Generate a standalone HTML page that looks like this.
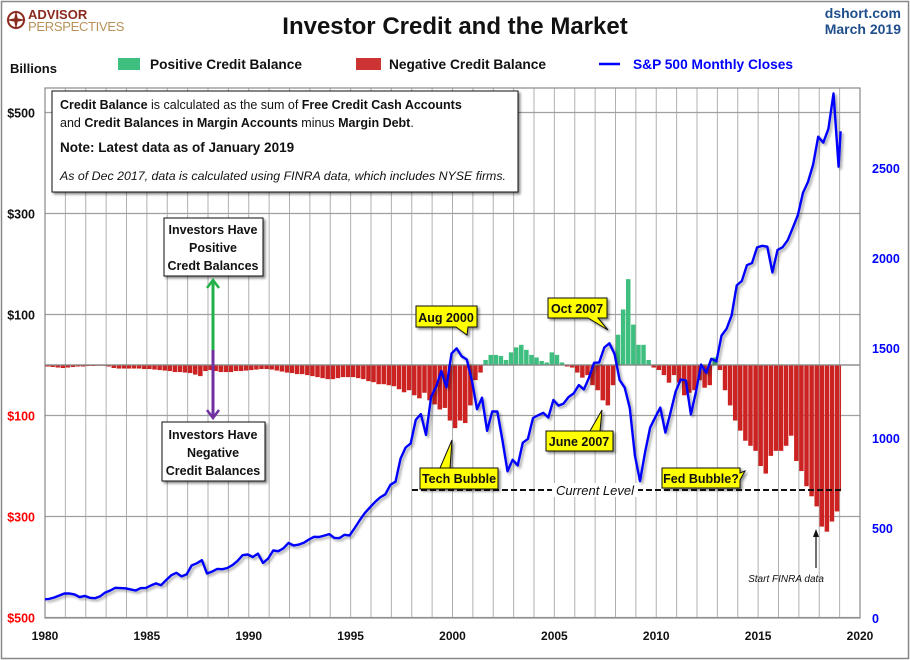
<!DOCTYPE html>
<html><head><meta charset="utf-8"><style>
html,body{margin:0;padding:0;background:#fff;}
svg{display:block;font-family:"Liberation Sans",sans-serif;}
</style></head><body>
<svg id="c" width="910" height="660" viewBox="0 0 910 660" xmlns="http://www.w3.org/2000/svg">
<defs>
<filter id="sh" x="-10%" y="-10%" width="130%" height="140%"><feDropShadow dx="2" dy="2" stdDeviation="1.2" flood-color="#000" flood-opacity="0.45"/></filter>
<filter id="lsh" x="-5%" y="-5%" width="110%" height="110%"><feDropShadow dx="2" dy="2" stdDeviation="1.2" flood-color="#000" flood-opacity="0.35"/></filter>
</defs>
<rect x="1.5" y="1.5" width="907" height="657" fill="#fff" stroke="#888" stroke-width="1.5"/>
<g id="grid"></g>
<g id="bars"></g>
<g id="line"></g>
<g id="axes"></g>

<!-- header -->
<g>
<circle cx="16" cy="20" r="8" fill="none" stroke="#8b2a1f" stroke-width="2"/>
<path d="M16,10 L18,20 L16,30 L14,20Z M6,20 L16,18 L26,20 L16,22Z" fill="#8b2a1f"/>
<text x="28" y="19" font-size="13" font-weight="bold" fill="#8b2a1f">ADVISOR</text>
<text x="28" y="31" font-size="13" fill="#b8925a" letter-spacing="-0.3">PERSPECTIVES</text>
</g>
<text x="455" y="34" text-anchor="middle" font-size="24" font-weight="bold" fill="#111">Investor Credit and the Market</text>
<text x="901" y="18" text-anchor="end" font-size="14" font-weight="bold" fill="#1f4e8c">dshort.com</text>
<text x="901" y="34" text-anchor="end" font-size="14" font-weight="bold" fill="#1f4e8c">March 2019</text>
<text x="10" y="73" font-size="13" font-weight="bold" fill="#111" textLength="47" lengthAdjust="spacingAndGlyphs">Billions</text>
<g>
<rect x="118" y="58" width="22" height="12" fill="#3fbf7f"/>
<text x="150" y="69" font-size="14" font-weight="bold" fill="#111" textLength="152" lengthAdjust="spacingAndGlyphs">Positive Credit Balance</text>
<rect x="356" y="58" width="25" height="12" fill="#cc3333"/>
<text x="389" y="69" font-size="14" font-weight="bold" fill="#111" textLength="157" lengthAdjust="spacingAndGlyphs">Negative Credit Balance</text>
<line x1="599" y1="64" x2="620" y2="64" stroke="#0000ff" stroke-width="2.5"/>
<text x="633" y="69" font-size="14" font-weight="bold" fill="#0000ff" textLength="160" lengthAdjust="spacingAndGlyphs">S&amp;P 500 Monthly Closes</text>
</g>

<!-- note box -->
<g>
<rect x="52" y="91" width="466" height="101" fill="#fff" stroke="#111" filter="url(#sh)"/>
<text x="60" y="109" font-size="12.5" fill="#111"><tspan font-weight="bold">Credit Balance</tspan> is calculated as the sum of <tspan font-weight="bold">Free Credit Cash Accounts</tspan></text>
<text x="60" y="127" font-size="12.5" fill="#111">and <tspan font-weight="bold">Credit Balances in Margin Accounts</tspan> minus <tspan font-weight="bold">Margin Debt</tspan>.</text>
<text x="60" y="152" font-size="13.5" font-weight="bold" fill="#111">Note: Latest data as of January  2019</text>
<text x="60" y="180" font-size="11.5" font-style="italic" fill="#111" textLength="446" lengthAdjust="spacingAndGlyphs">As of Dec 2017, data is calculated using  FINRA data, which includes NYSE firms.</text>
</g>

<!-- investors boxes -->
<g>
<rect x="164" y="218" width="99" height="58" fill="#fff" stroke="#111" filter="url(#sh)"/>
<text x="213" y="234" text-anchor="middle" font-size="12.5" font-weight="bold" fill="#111">Investors Have</text>
<text x="213" y="252" text-anchor="middle" font-size="12.5" font-weight="bold" fill="#111">Positive</text>
<text x="213" y="270" text-anchor="middle" font-size="12.5" font-weight="bold" fill="#111">Credt Balances</text>
</g>
<line x1="213" y1="350" x2="213" y2="280" stroke="#22b04a" stroke-width="3"/>
<path d="M207,288 L213,280 L219,288" fill="none" stroke="#22b04a" stroke-width="2.5"/>
<line x1="213" y1="350" x2="213" y2="418" stroke="#7030a0" stroke-width="3"/>
<path d="M207,410 L213,418 L219,410" fill="none" stroke="#7030a0" stroke-width="2.5"/>
<g>
<rect x="162" y="422" width="103" height="59" fill="#fff" stroke="#111" filter="url(#sh)"/>
<text x="213" y="439" text-anchor="middle" font-size="12.5" font-weight="bold" fill="#111">Investors Have</text>
<text x="213" y="457" text-anchor="middle" font-size="12.5" font-weight="bold" fill="#111">Negative</text>
<text x="213" y="475" text-anchor="middle" font-size="12.5" font-weight="bold" fill="#111">Credit Balances</text>
</g>

<!-- current level -->
<line x1="412" y1="490" x2="843" y2="490" stroke="#111" stroke-width="2" stroke-dasharray="6,3"/>
<rect x="552" y="483" width="86" height="14" fill="#fff"/>
<text x="595" y="495" text-anchor="middle" font-size="13" font-style="italic" fill="#111">Current Level</text>

<!-- callouts -->
<g filter="url(#sh)">
<path d="M416,306 H477 V327 H468 L467,335 L456,327 H416Z" fill="#ffff00" stroke="#111"/>
<path d="M548,298 H607 V318 H598 L608,330 L588,318 H548Z" fill="#ffff00" stroke="#111"/>
<path d="M420,468 H498 V489 H420 V468 H440 L452,440 L450,468Z" fill="#ffff00" stroke="#111"/>
<path d="M546,431 H613 V451 H546 V431 H590 L602,410 L600,431Z" fill="#ffff00" stroke="#111"/>
<path d="M662,468 H740 V473 L745,471 L740,480 V488 H662Z" fill="#ffff00" stroke="#111"/>
</g>
<text x="446" y="322" text-anchor="middle" font-size="12.5" font-weight="bold" fill="#111">Aug 2000</text>
<text x="577" y="313" text-anchor="middle" font-size="12.5" font-weight="bold" fill="#111">Oct 2007</text>
<text x="459" y="483" text-anchor="middle" font-size="12.5" font-weight="bold" fill="#111">Tech Bubble</text>
<text x="579" y="446" text-anchor="middle" font-size="12.5" font-weight="bold" fill="#111">June 2007</text>
<text x="701" y="483" text-anchor="middle" font-size="12.5" font-weight="bold" fill="#111">Fed Bubble?</text>

<line x1="816" y1="568" x2="816" y2="532" stroke="#111" stroke-width="1.2"/>
<path d="M813,537 L816,529 L819,537Z" fill="#111"/>
<text x="786" y="582" text-anchor="middle" font-size="10" font-style="italic" fill="#111">Start FINRA data</text>
</svg>
<script>
// ---- data ----
const spYears = [1980,1981,1982,1983,1984,1985,1986,1987,1988,1989,1990,1991,1992,1993,1994,1995,1996,1997,1998,1999,2000,2001,2002,2003,2004,2005,2006,2007,2008,2009,2010,2011,2012,2013,2014,2015,2016,2017,2018];
const spQuarterly = [
 106,114,125,136, 136,131,116,123, 112,110,120,141, 153,168,166,165, 159,153,166,167,
 181,192,182,211, 238,251,231,242, 292,304,321,247, 258,273,271,278, 294,317,349,353,
 339,358,306,330, 375,371,387,417, 403,408,418,436, 451,450,458,466, 445,444,462,459,
 500,544,584,615, 645,670,687,740, 757,885,947,970, 1101,1133,1017,1229, 1286,1372,1282,1469,
 1498,1454,1436,1320, 1160,1224,1040,1148, 1147,989,815,879, 848,974,995,1111, 1126,1140,1114,1211,
 1180,1191,1228,1248, 1294,1270,1335,1418, 1420,1503,1526,1468, 1322,1280,1166,903, 760,919,1057,1115,
 1169,1030,1141,1257, 1325,1320,1131,1257, 1408,1362,1440,1426, 1569,1606,1681,1848, 1872,1960,1972,2059,
 2068,2063,1920,2044, 2060,2099,2168,2239, 2363,2423,2519,2674, 2641,2718,2914,2507];
const spLatest = 2704; // Jan 2019
const creditQuarterly = [
 -3,-4,-5,-6, -5,-4,-3,-3, -2,-2,-1,-1, -3,-6,-7,-7, -7,-7,-7,-8,
 -8,-9,-10,-11, -12,-14,-14,-15, -16,-19,-22,-12, -10,-12,-14,-14, -14,-12,-12,-11,
 -10,-9,-8,-8, -9,-11,-13,-15, -16,-18,-18,-20, -22,-24,-26,-28, -28,-26,-24,-24,
 -24,-26,-28,-32, -34,-38,-38,-40, -42,-48,-54,-50, -60,-66,-55,-70, -78,-88,-85,-110,
 -125,-110,-115,-80, -30,-15,10,20, 20,18,10,25, 35,40,30,20, 15,8,5,25,
 20,5,-3,-5, -15,-25,-20,-40, -50,-70,-80,-40, 60,110,170,80, 40,40,10,-5,
 -10,-20,-35,-20, -35,-60,-55,-50, -30,-45,-40,15, -10,-50,-80,-110, -130,-150,-160,-170,
 -200,-215,-180,-170, -170,-160,-140,-190, -210,-240,-260,-280, -320,-330,-310,-290];
const creditLatest = -250; // Jan 2019
const leftTicks = [500,300,100,0,-100,-300,-500];
const leftTickLabels = ["$500","$300","$100","","$100","$300","$500"];
const rightTicks = [0,500,1000,1500,2000,2500];
const xTicks = [1980,1985,1990,1995,2000,2005,2010,2015,2020];

// ---- scales ----
const L=45,R=860,T=88,B=618;
const x = t => L + (t-1980)*(R-L)/40;
const yL = v => 365 - v*0.505;
const yR = v => 618 - v*0.18;
const NS="http://www.w3.org/2000/svg";
function mk(tag,attrs,parent){const e=document.createElementNS(NS,tag);for(const k in attrs)e.setAttribute(k,attrs[k]);parent.appendChild(e);return e;}

const grid=document.getElementById('grid');
for(let yr=1981;yr<2020;yr++){
  const g=mk('line',{x1:x(yr),x2:x(yr),y1:T,y2:B,stroke:'#b0b0b0','stroke-width':1},grid);
  
  
}
leftTicks.forEach(v=>{
  const g=mk('line',{x1:L,x2:R,y1:yL(v),y2:yL(v),stroke:'#a0a0a0','stroke-width':1.2},grid);
  
  
});
mk('rect',{x:L,y:T,width:R-L,height:B-T,fill:'none',stroke:'#888','stroke-width':1.2},grid);

// bars
const bars=document.getElementById('bars');
const bw=(R-L)/40/4;
const allCredit=creditQuarterly.concat([creditLatest]);
allCredit.forEach((v,i)=>{
  const t = i<creditQuarterly.length ? 1980+i*0.25 : 2019.0;
  const y0=yL(0), y1=yL(v);
  const r=mk('rect',{x:x(t)+0.3,y:Math.min(y0,y1),width:(i<creditQuarterly.length?bw:bw/3)-0.6,height:Math.max(Math.abs(y1-y0),0.8),fill:v>=0?'#3fbf7f':'#cc2222'},bars);
  
  
});
mk('line',{x1:L,x2:R,y1:yL(0),y2:yL(0),stroke:'#888','stroke-width':1.2},bars);

// line
const lineG=document.getElementById('line');
const pts=spQuarterly.map((v,i)=>[x(1980+i*0.25+0.2),yR(v)]);
pts.unshift([x(1980),yR(spQuarterly[0]-2)]);
pts.push([x(2019.05),yR(spLatest)]);
const d='M'+pts.map(p=>p[0].toFixed(1)+','+p[1].toFixed(1)).join(' L');
const pl=mk('path',{d:d,fill:'none',stroke:'#0000ff','stroke-width':2.4,'stroke-linejoin':'round',filter:'url(#lsh)'},lineG);



// axes labels
const axes=document.getElementById('axes');
leftTicks.forEach((v,i)=>{
  if(!leftTickLabels[i])return;
  const t=mk('text',{x:35,y:yL(v)+5,'text-anchor':'end','font-size':12.5,'font-weight':'bold',fill:v<0?'#ff0000':'#111'},axes);
  t.textContent=leftTickLabels[i];
  
  
});
rightTicks.forEach(v=>{
  const t=mk('text',{x:872,y:yR(v)+5,'font-size':12.5,'font-weight':'bold',fill:'#0000ff'},axes);
  t.textContent=v;
  
  
});
xTicks.forEach(v=>{
  const t=mk('text',{x:x(v),y:640,'text-anchor':'middle','font-size':12,'font-weight':'bold',fill:'#111'},axes);
  t.textContent=v;
  
  
});
</script>
</body></html>
